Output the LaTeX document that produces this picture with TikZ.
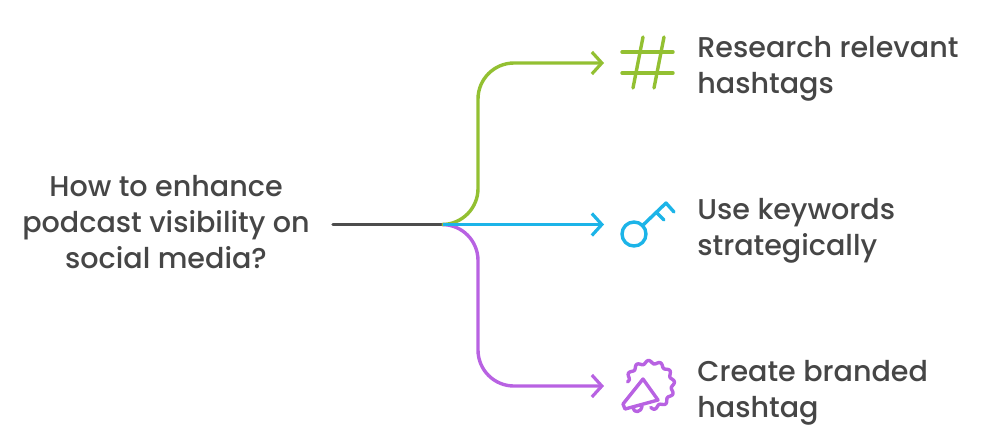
\documentclass[tikz,border=0pt]{standalone}
\usepackage{fontspec}
\setmainfont[UprightFont={* Medium}]{Poppins}
\usetikzlibrary{arrows.meta,calc,positioning}
\definecolor{ink}{HTML}{464646}
\definecolor{trunk}{HTML}{4D4D4D}
\definecolor{leaf}{HTML}{93C032}
\definecolor{sky}{HTML}{1CB4E8}
\definecolor{violet}{HTML}{B862E2}
\tikzset{
  label/.style={font=\fontsize{14.3}{18}\selectfont,text=ink,inner sep=0pt},
  itemlabel/.style={label,align=left,anchor=west},
  branch/.style={-{Straight Barb[length=5pt,width=11pt,line width=1.6pt]},line width=1.7pt,rounded corners=18pt},
  icon/.style={line width=1.7pt,line cap=round,line join=round}
}

\begin{document}
\begin{tikzpicture}[x=0.5pt,y=-0.5pt]
    \useasboundingbox (0,0) rectangle (999,441);

    \node[label,align=center] (question) at (166,222) {How to enhance\\podcast visibility on\\social media?};
    \coordinate (trunkstart) at (333,224.5);
    \coordinate (hub) at (443,224.5);
    \draw[line width=1.7pt,draw=trunk,line cap=round] (trunkstart) -- (hub);

    \node[itemlabel] (hashtags) at (697,69) {Research relevant\\hashtags};
    \node[itemlabel] (keywords) at (697,231) {Use keywords\\strategically};
    \node[itemlabel] (branded) at (697,393) {Create branded\\hashtag};

    \coordinate (hashtip) at (604,63);
    \coordinate (keytip) at (604,224.5);
    \coordinate (brandtip) at (604,386);
    \coordinate (hashbend) at (478,63);
    \coordinate (brandbend) at (478,386);

    \draw[branch,draw=violet] (hub) -- (hub -| brandbend) -- (brandbend) -- (brandtip);
    \draw[branch,draw=leaf] (hub) -- (hub -| hashbend) -- (hashbend) -- (hashtip);
    \draw[branch,draw=sky,rounded corners=0pt] (hub) -- (keytip);

    % hash
    \draw[icon,draw=leaf] (622,52) -- (673,52) (622,73) -- (673,73);
    \draw[icon,draw=leaf] (643,37) -- (633,88) (664,37) -- (654,88);

    % key
    \draw[icon,draw=sky] (634,234) circle (12);
    \draw[icon,draw=sky] (642,226) -- (666,203) -- (674,212) (657,213) -- (664,220);

    % megaphone
    \draw[icon,draw=violet] (643,379) -- (623,404) -- (625,409) -- (658,400) -- cycle;
    \draw[icon,draw=violet] (633,408) .. controls (634,413) and (641,413) .. (642,406);
    \draw[icon,draw=violet] plot[smooth,domain=172:-88,samples=105] ({650+(23+1.6*sin(12.5*\x))*cos(\x)},{385-(23+1.6*sin(12.5*\x))*sin(\x)});
  \end{tikzpicture}
\end{document}
